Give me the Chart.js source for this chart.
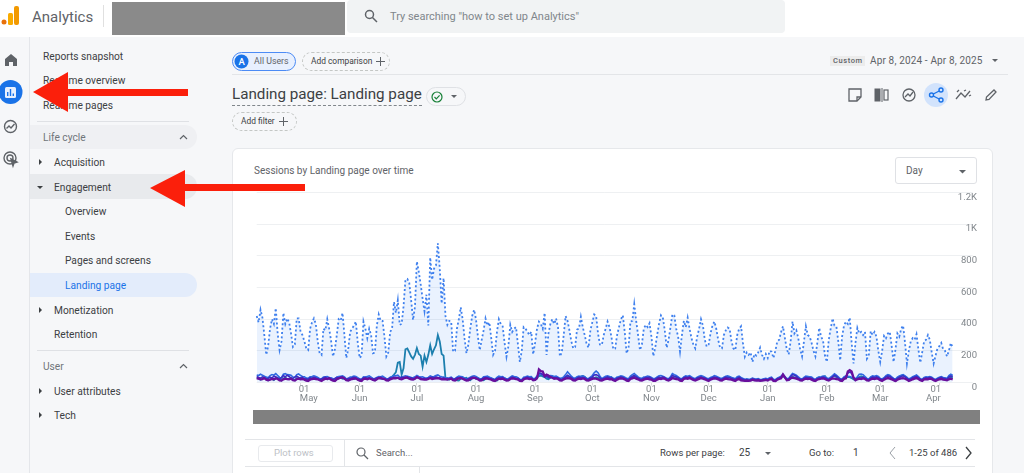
<!DOCTYPE html>
<html>
<head>
<meta charset="utf-8">
<title>Landing page: Landing page</title>
<script src="https://cdn.jsdelivr.net/npm/chart.js@4"></script>
<style>
html, body { margin: 0; padding: 0; width: 1024px; height: 473px; overflow: hidden; background: #f6f7f9; font-family: Roboto, sans-serif; color: #3c4043; }
.t { position: absolute; transform: translateY(calc(-50% + 1px)); white-space: nowrap; font-size: 10.2px; line-height: 1; }
.b { position: absolute; box-sizing: border-box; }
.chip { position: absolute; box-sizing: border-box; height: 19px; border: 1px dashed #c4c7c5; border-radius: 10px; }
svg { position: absolute; overflow: visible; }
</style>
</head>
<body>
<!-- top bar -->
<div class="b" style="left:0;top:0;width:1024px;height:37px;background:#fff"></div>
<svg style="left:0;top:0" width="24" height="30"><circle cx="4" cy="22" r="2.5" fill="#e8710a"/><rect x="8" y="13" width="5" height="12" rx="1.5" fill="#f9ab00"/><rect x="14" y="6" width="5" height="19" rx="2" fill="#f29900"/></svg>
<div class="t" style="left:32px;top:16px;font-size:15px;color:#5f6368">Analytics</div>
<div class="b" style="left:103px;top:5px;width:1px;height:22px;background:#e0e0e0"></div>
<div class="b" style="left:112px;top:2px;width:233px;height:33px;background:#8a8a8a"></div>
<div class="b" style="left:347px;top:0;width:438px;height:33px;background:#f1f3f4;border-radius:4px"></div>
<svg style="left:364px;top:9px" width="14" height="14" fill="none" stroke="#5f6368" stroke-width="1.5"><circle cx="5.5" cy="5.5" r="4"/><path d="M8.5 8.5 13 13"/></svg>
<div class="t" style="left:390px;top:15px;font-size:11px;color:#80868b">Try searching "how to set up Analytics"</div>

<!-- left rail -->
<div class="b" style="left:29px;top:37px;width:1px;height:436px;background:#e4e6ea"></div>
<svg style="left:4px;top:53px" width="14" height="14" fill="#5f6368"><path d="M7 1 13 6V13H9V9H5V13H1V6Z"/></svg>
<svg style="left:0;top:80px" width="24" height="24"><circle cx="10.5" cy="12" r="12" fill="#1a73e8"/><rect x="5" y="7" width="11" height="11" rx="1.5" fill="#e8f0fe"/><path d="M7.7 16V12M10.5 16V9M13.3 16V13.5" stroke="#1a73e8" stroke-width="1.4"/></svg>
<svg style="left:3px;top:119px" width="15" height="15" fill="none" stroke="#5f6368" stroke-width="1.4"><circle cx="7.5" cy="7.5" r="6"/><path d="M3.5 9.5 6 7l2 2 3.5-4"/></svg>
<svg style="left:3px;top:151px" width="15" height="15" fill="none" stroke="#5f6368" stroke-width="1.4"><circle cx="7" cy="7" r="6"/><circle cx="7" cy="7" r="3"/><path d="M8 8 14 11 11 12 10 15Z" fill="#5f6368"/></svg>

<!-- sidebar -->
<div class="t" style="left:43px;top:56px">Reports snapshot</div>
<div class="t" style="left:43px;top:80px">Realtime overview</div>
<div class="t" style="left:43px;top:105px">Realtime pages</div>
<div class="b" style="left:37px;top:121px;width:152px;height:1px;background:#dfe1e5"></div>
<div class="b" style="left:30px;top:125px;width:167px;height:24px;background:#eff0f3;border-radius:0 12px 12px 0"></div>
<div class="t" style="left:43px;top:137px;color:#70757a">Life cycle</div>
<svg style="left:179px;top:134px" width="9" height="6" fill="none" stroke="#5f6368" stroke-width="1.2"><path d="M1 5 4.500 1.500 8 5"/></svg>
<svg style="left:38px;top:159px" width="5" height="6" fill="#3c4043"><path d="M1 0 4 3 1 6Z"/></svg>
<div class="t" style="left:54px;top:162px">Acquisition</div>
<div class="b" style="left:30px;top:174px;width:167px;height:25px;background:#e8eaed;border-radius:0 12px 12px 0"></div>
<svg style="left:37px;top:185px" width="6" height="5" fill="#3c4043"><path d="M0 1 6 1 3 4Z"/></svg>
<div class="t" style="left:54px;top:187px">Engagement</div>
<div class="t" style="left:65px;top:211px">Overview</div>
<div class="t" style="left:65px;top:236px">Events</div>
<div class="t" style="left:65px;top:260px">Pages and screens</div>
<div class="b" style="left:30px;top:273px;width:167px;height:24px;background:#e3ecfb;border-radius:0 12px 12px 0"></div>
<div class="t" style="left:65px;top:285px;color:#1a73e8">Landing page</div>
<svg style="left:38px;top:307px" width="5" height="6" fill="#3c4043"><path d="M1 0 4 3 1 6Z"/></svg>
<div class="t" style="left:54px;top:310px">Monetization</div>
<div class="t" style="left:54px;top:334px">Retention</div>
<div class="b" style="left:37px;top:350px;width:152px;height:1px;background:#dfe1e5"></div>
<div class="t" style="left:43px;top:366px;color:#70757a">User</div>
<svg style="left:179px;top:363px" width="9" height="6" fill="none" stroke="#5f6368" stroke-width="1.2"><path d="M1 5 4.500 1.500 8 5"/></svg>
<svg style="left:38px;top:388px" width="5" height="6" fill="#3c4043"><path d="M1 0 4 3 1 6Z"/></svg>
<div class="t" style="left:54px;top:391px">User attributes</div>
<svg style="left:38px;top:412px" width="5" height="6" fill="#3c4043"><path d="M1 0 4 3 1 6Z"/></svg>
<div class="t" style="left:54px;top:415px">Tech</div>

<!-- report header -->
<div class="b" style="left:232px;top:52px;width:64px;height:19px;background:#e8f0fe;border:1px solid #4c8bf5;border-radius:10px"></div>
<svg style="left:234px;top:54px" width="15" height="15"><circle cx="7.5" cy="7.5" r="7" fill="#1a73e8"/></svg>
<div class="t" style="left:238.500px;top:60.500px;font-size:9.500px;color:#fff;font-weight:500">A</div>
<div class="t" style="left:254px;top:60px;font-size:8.800px;color:#5f6368">All Users</div>
<div class="chip" style="left:302px;top:52px;width:88px"></div>
<div class="t" style="left:311px;top:60px;font-size:8.400px">Add comparison</div>
<svg style="left:376px;top:57px" width="9" height="9" stroke="#5f6368"><path d="M4.500 0V9M0 4.500H9"/></svg>
<div class="b" style="left:232px;top:74px;width:776px;height:1px;background:#e3e5e8"></div>
<div class="b" style="left:830px;top:56px;width:35px;height:10px;background:#ececec"></div>
<div class="t" style="left:833px;top:60px;font-size:7.500px;letter-spacing:.6px;font-weight:500;color:#5f6368">Custom</div>
<div class="t" style="left:870px;top:60px;font-size:10px;letter-spacing:.15px;color:#5f6368">Apr 8, 2024 - Apr 8, 2025</div>
<svg style="left:992px;top:59px" width="6" height="4" fill="#5f6368"><path d="M0 0H6L3 3Z"/></svg>
<div class="t" style="left:232px;top:94px;font-size:15.200px">Landing page: Landing page</div>
<div class="b" style="left:232px;top:105px;width:190px;border-top:1px dashed #80868b"></div>
<div class="b" style="left:426px;top:87px;width:40px;height:19px;border:1px solid #dfe1e5;border-radius:10px"></div>
<svg style="left:431px;top:91px" width="12" height="12" fill="none" stroke="#188038" stroke-width="1.2"><circle cx="6" cy="6" r="5"/><path d="M3.500 6 5.300 7.800 8.600 4.400"/></svg>
<svg style="left:451px;top:95px" width="6" height="4" fill="#5f6368"><path d="M0 0H6L3 3Z"/></svg>
<div class="chip" style="left:232px;top:112px;width:65px"></div>
<div class="t" style="left:241px;top:120px;font-size:8.400px">Add filter</div>
<svg style="left:279px;top:117px" width="9" height="9" stroke="#5f6368"><path d="M4.500 0V9M0 4.500H9"/></svg>

<svg style="left:848px;top:88px" width="14" height="14" fill="none" stroke="#5f6368" stroke-width="1.3"><path d="M1 1H13V9L9 13H1Z"/><path d="M9 13V9H13"/></svg>
<svg style="left:874px;top:88px" width="16" height="14" stroke="#5f6368"><rect x="1" y="1" width="5" height="12" fill="#5f6368"/><rect x="10" y="2" width="4" height="10" fill="none" stroke-width="1.2"/><path d="M8 0V14"/></svg>
<svg style="left:902px;top:88px" width="14" height="14" fill="none" stroke="#5f6368" stroke-width="1.3"><circle cx="7" cy="7" r="6"/><path d="M3 9 6 6l2 2 3-4"/></svg>
<svg style="left:924px;top:83px" width="24" height="24"><circle cx="12" cy="12" r="12" fill="#d2e3fc"/><g fill="none" stroke="#1a73e8" stroke-width="1.4"><circle cx="17" cy="7" r="2"/><circle cx="7.500" cy="12" r="2"/><circle cx="17" cy="17" r="2"/><path d="M15.200 8 9.300 11M9.300 13 15.200 16"/></g></svg>
<svg style="left:956px;top:89px" width="15" height="12" fill="none" stroke="#5f6368" stroke-width="1.3"><path d="M0 10 5 4 9 8 14 2"/><path d="M1 3 3 1M8 2 10 1M13 7 15 6"/></svg>
<svg style="left:985px;top:89px" width="12" height="12" fill="none" stroke="#5f6368" stroke-width="1.3"><path d="M1 11 1.500 8 9 1 11 3 4 10.500Z"/></svg>

<!-- chart card -->
<div class="b" style="left:232px;top:148px;width:761px;height:340px;background:#fff;border:1px solid #e6e8eb;border-radius:6px"></div>
<div class="t" style="left:254px;top:170px;font-size:10px;color:#5f6368">Sessions by Landing page over time</div>
<div class="b" style="left:895px;top:157px;width:82px;height:27px;border:1px solid #dfe1e5;border-radius:3px"></div>
<div class="t" style="left:906px;top:170px;font-size:10px;color:#5f6368">Day</div>
<svg style="left:959px;top:170px" width="7" height="4" fill="#5f6368"><path d="M0 0H7L3.500 3.500Z"/></svg>
<canvas id="chart_sessions" width="744" height="225" style="position:absolute;left:233px;top:185px;width:744px;height:225px"></canvas>
<div class="b" style="left:253px;top:410px;width:727px;height:14px;background:#808080"></div>

<!-- table toolbar -->
<div class="b" style="left:245px;top:439px;width:730px;height:1px;background:#e3e5e8"></div>
<div class="b" style="left:245px;top:466px;width:730px;height:1px;background:#e3e5e8"></div>
<div class="b" style="left:344px;top:439px;width:1px;height:27px;background:#e3e5e8"></div>
<div class="b" style="left:419px;top:466px;width:1px;height:7px;background:#e3e5e8"></div>
<div class="b" style="left:258px;top:445px;width:75px;height:17px;border:1px solid #e8eaed;border-radius:3px"></div>
<div class="t" style="left:274px;top:452px;font-size:9.500px;color:#bdc1c6">Plot rows</div>
<svg style="left:356px;top:447px" width="12" height="12" fill="none" stroke="#5f6368" stroke-width="1.2"><circle cx="5" cy="5" r="4"/><path d="M8 8 12 12"/></svg>
<div class="t" style="left:376px;top:452px;font-size:9.500px;color:#5f6368">Search...</div>
<div class="t" style="left:660px;top:452px;font-size:9.500px">Rows per page:</div>
<div class="t" style="left:739px;top:452px;font-size:10px">25</div>
<svg style="left:765px;top:452px" width="6" height="4" fill="#5f6368"><path d="M0 0H6L3 3Z"/></svg>
<div class="t" style="left:809px;top:452px;font-size:9.500px">Go to:</div>
<div class="t" style="left:853px;top:452px;font-size:10px">1</div>
<svg style="left:889px;top:447px" width="7" height="12" fill="none" stroke="#9aa0a6" stroke-width="1"><path d="M6 0 1 6 6 12"/></svg>
<div class="t" style="left:909px;top:452px;font-size:9.500px">1-25 of 486</div>
<svg style="left:965px;top:447px" width="7" height="12" fill="none" stroke="#3c4043" stroke-width="1.300"><path d="M1 0 6 6 1 12"/></svg>

<!-- red arrows -->
<svg style="left:0;top:0" width="320" height="220" fill="#fb1f0b"><path d="M33 92 68 72V89H188V96H68V112Z"/><path d="M150 188 185 170V184H305V191H185V207Z"/></svg>

<script>
// one value per day, Apr 8 2024 - Apr 8 2025
const totalSessions = [
  420,380,460,410,300,175,230,
  340,400,370,470,310,205,260,
  440,370,405,380,310,225,240,
  405,405,320,300,260,215,205,
  340,380,405,370,260,185,175,
  340,330,400,340,265,165,210,
  300,400,390,440,300,155,210,
  320,340,360,385,250,155,170,
  385,340,280,340,300,185,190,
  360,430,390,390,290,165,190,
  320,340,510,440,520,365,370,
  480,650,655,630,520,395,480,
  765,700,620,530,450,555,360,
  790,650,720,740,880,720,500,
  660,420,365,390,385,195,200,
  340,400,475,400,280,185,240,
  340,420,460,400,290,205,270,
  330,405,360,380,280,175,200,
  320,400,370,355,250,163,230,
  365,320,340,350,240,130,200,
  350,340,320,300,320,178,250,
  340,385,370,340,440,174,310,
  370,400,370,405,350,165,190,
  300,420,390,330,260,216,225,
  335,340,415,350,300,245,220,
  330,380,430,420,310,240,237,
  300,340,385,350,290,210,215,
  300,350,400,425,320,184,220,
  385,390,495,390,300,205,240,
  340,365,350,375,290,167,220,
  300,370,425,410,330,220,270,
  350,430,425,340,290,195,300,
  390,350,410,340,280,240,216,
  290,340,400,360,270,227,240,
  310,360,385,340,270,220,216,
  300,330,348,340,260,215,205,
  300,340,355,250,163,190,175,
  190,130,180,170,190,220,175,150,180,155,200,195,155,200,
  260,270,320,355,280,210,178,260,385,310,330,280,210,165,
  260,355,300,290,250,200,165,250,345,290,265,170,130,270,
  340,405,360,355,260,140,290,360,385,370,410,250,120,250,
  345,310,320,300,320,150,170,325,300,320,290,200,130,200,
  295,280,310,320,230,130,210,310,290,340,360,250,120,200,
  260,280,270,305,210,125,190,260,270,300,270,190,120,170,
  215,230,250,210,200,165,200,250,220
];
const tealSessions = [
  30,26,18,22,34,28,14,20,24,16,28,30,22,12,
  26,32,20,24,30,18,14,28,22,26,20,24,16,12,
  24,28,22,26,30,18,14,26,24,20,28,22,16,12,
  22,26,30,24,28,16,14,24,28,22,26,20,14,12,
  26,22,28,30,24,18,14,24,30,26,22,28,16,14,
  28,36,50,65,125,130,50,90,210,215,190,165,150,175,
  218,180,170,100,170,130,175,235,180,210,235,300,260,180,
  170,25,20,18,26,22,24,14,12,24,28,26,30,18,
  14,26,30,24,28,22,16,14,24,28,30,26,22,14,
  12,24,30,26,28,20,16,26,34,30,28,24,14,12,
  24,28,32,26,30,18,16,30,40,44,38,34,24,20,
  30,36,34,32,28,20,18,28,34,40,36,30,22,18,
  30,34,38,42,36,24,20,26,30,28,34,30,20,18,
  26,32,30,28,34,22,16,26,36,32,30,28,18,14,
  28,34,42,36,30,20,16,24,30,34,28,26,16,14,
  26,30,28,34,30,22,18,26,32,36,38,30,20,16,
  28,30,34,32,28,20,16,24,30,34,30,26,18,14,
  24,28,32,30,26,20,16,26,30,34,36,28,18,16,
  24,30,22,18,14,20,16,18,24,20,18,22,16,14,
  20,22,18,24,26,14,12,22,28,32,40,34,18,16,
  28,38,32,30,26,18,14,24,30,36,34,28,18,14,
  28,34,30,36,40,24,16,24,38,42,34,30,18,14,
  26,32,36,34,28,20,16,28,34,40,36,30,20,14,
  26,32,28,34,30,20,14,24,36,40,38,30,18,12,
  24,30,42,46,38,30,16,20,30,38,42,34,20,14,
  26,30,28,34,30,18,14,22,28,32,26,24,16,22,
  34,30
];
const blueSessions = [
  48,44,52,46,40,34,30,44,50,46,56,44,32,30,
  52,56,50,48,46,34,32,50,54,44,38,36,28,26,
  36,38,42,38,32,24,22,34,36,38,32,30,24,20,
  34,38,40,42,36,24,22,34,36,40,38,30,22,20,
  36,34,38,42,34,26,22,32,38,36,40,32,24,22,
  34,38,44,42,46,34,32,38,42,40,36,32,30,36,
  44,38,34,36,30,28,32,42,36,38,44,48,40,36,
  34,30,28,30,34,24,22,34,40,38,36,28,22,24,
  34,40,42,38,30,22,24,36,38,40,34,28,22,20,
  32,40,36,38,28,22,24,34,42,38,36,30,20,18,
  34,36,40,36,38,24,26,40,48,56,52,44,36,40,
  44,42,38,40,34,26,28,36,50,68,54,40,30,28,
  36,40,38,42,36,26,24,34,44,62,72,62,40,24,
  32,40,42,38,34,26,24,34,36,42,40,34,26,24,
  40,50,57,46,36,28,26,34,36,40,38,32,24,26,
  36,42,44,40,34,26,24,36,57,50,44,36,26,24,
  36,42,40,44,36,28,24,34,40,44,40,34,26,24,
  32,36,44,40,34,28,26,34,40,42,36,32,28,24,
  36,40,32,26,20,22,20,22,28,24,22,24,18,20,
  24,26,22,30,34,20,18,28,34,40,52,38,24,26,
  42,57,52,46,36,26,22,32,40,38,36,34,24,20,
  30,34,36,40,38,28,24,34,44,55,46,36,24,22,
  36,42,40,38,34,28,24,36,52,54,50,38,26,22,
  36,42,40,44,38,26,22,30,44,50,46,36,26,20,
  34,42,46,50,42,32,22,28,36,42,48,38,24,20,
  32,36,34,38,34,24,20,28,34,38,32,30,26,44,
  52,44
];
const indigoSessions = [
  38,32,28,36,30,20,26,34,28,40,36,26,24,30,
  44,36,46,38,28,26,34,40,32,28,34,22,24,20,
  30,26,34,28,24,18,24,28,34,26,30,20,18,26,
  32,28,36,34,22,18,28,24,30,32,28,20,22,18,
  28,32,26,30,24,20,26,30,28,34,26,24,18,24,
  30,26,34,32,28,26,34,30,28,36,26,30,22,28,
  34,30,28,24,26,22,28,30,34,28,36,32,30,26,
  28,24,26,22,28,18,24,30,28,32,26,20,18,26,
  28,32,30,26,24,18,22,28,32,30,26,22,20,16,
  26,30,28,32,22,20,18,28,34,30,24,26,18,14,
  26,30,34,28,26,20,22,34,60,58,48,36,40,30,
  36,32,30,28,30,22,18,26,36,46,38,30,24,20,
  28,34,30,32,30,20,22,28,34,48,50,44,30,20,
  26,30,36,30,28,22,18,28,30,36,32,26,22,18,
  30,38,44,36,28,22,20,26,32,30,34,26,18,22,
  28,34,30,36,30,20,22,28,44,40,34,30,22,18,
  30,34,32,36,26,24,18,28,32,36,30,28,22,18,
  26,30,34,32,28,22,20,28,34,32,30,26,22,18,
  28,34,26,20,16,18,14,18,22,20,16,20,14,16,
  18,22,16,24,28,16,14,24,28,34,46,30,20,22,
  36,50,46,40,28,20,18,26,32,30,28,26,20,16,
  24,28,30,34,30,24,18,26,36,46,40,28,20,18,
  30,36,60,66,58,32,18,26,30,28,34,28,20,16,
  28,34,32,36,30,22,16,24,36,42,38,30,22,14,
  26,34,38,42,36,26,18,22,30,34,38,30,20,16,
  26,30,28,32,28,20,16,22,28,32,26,24,20,34,
  42,36
];
const purpleSessions = [
  26,24,20,22,28,18,14,18,22,20,26,22,14,12,
  20,24,22,20,24,14,12,22,24,20,22,18,12,10,
  18,22,24,22,20,14,10,18,24,22,26,18,12,10,
  20,26,30,32,26,14,12,18,22,24,26,18,12,10,
  22,24,20,26,22,16,12,20,28,26,24,22,14,12,
  20,24,28,26,30,22,20,26,32,30,24,20,18,24,
  34,28,22,20,18,18,22,28,22,24,26,28,24,20,
  22,20,18,22,24,14,12,20,26,28,24,18,12,14,
  22,28,30,26,20,12,14,22,26,24,22,18,12,10,
  18,24,22,24,18,12,14,22,26,24,22,18,10,8,
  20,24,26,22,24,14,16,26,83,72,70,40,50,44,
  34,30,24,26,22,14,12,20,24,28,26,22,14,12,
  20,24,22,26,22,14,12,18,22,26,24,20,14,12,
  18,22,24,20,22,14,10,18,24,26,24,20,12,10,
  22,26,30,24,20,14,12,18,22,24,20,18,10,10,
  18,24,22,26,24,16,12,18,28,24,22,20,12,10,
  22,26,24,28,22,16,12,18,22,28,24,20,14,10,
  18,22,26,24,20,14,12,20,24,22,20,18,14,10,
  18,22,14,12,10,12,10,12,18,14,12,14,10,12,
  14,16,12,20,22,10,8,18,22,26,50,32,14,16,
  26,30,28,24,20,14,12,20,24,22,24,18,12,10,
  18,22,24,26,22,16,12,20,26,24,22,20,12,10,
  22,26,70,78,70,30,14,20,24,22,26,22,14,12,
  20,24,22,26,22,14,10,18,24,28,24,20,14,8,
  18,22,26,28,24,18,10,14,20,24,28,22,14,10,
  20,22,20,24,22,14,10,16,20,22,18,16,14,20,
  24,20
];

// daily categories for the whole range
const monthNames = ['Jan','Feb','Mar','Apr','May','Jun','Jul','Aug','Sep','Oct','Nov','Dec'];
const dayLabels = [];
for ( var i = 0; i < totalSessions.length; i++ ) {
  const d = new Date(Date.UTC(2024, 3, 8 + i));
  dayLabels.push(String(d.getUTCDate()).padStart(2, '0') + ' ' + monthNames[d.getUTCMonth()]);
}

const yTicks = {0: '0', 200: '200', 400: '400', 600: '600', 800: '800', 1000: '1K', 1200: '1.2K'};

const configSessions = {
  type: 'line',
  data: {
    labels: dayLabels,
    datasets: [{
        // first dataset is painted last
        label: 'purple',
        data: purpleSessions,
        fill: false,
        borderColor: '#690f9c',
        borderWidth: 2.3,
        pointRadius: 0
    },
    {
        label: 'indigo',
        data: indigoSessions,
        fill: false,
        borderColor: '#3a2fc4',
        borderWidth: 1.6,
        pointRadius: 0
    },
    {
        label: 'blue',
        data: blueSessions,
        fill: false,
        borderColor: '#2f6ae0',
        borderWidth: 1.6,
        pointRadius: 0
    },
    {
        label: 'teal',
        data: tealSessions,
        fill: false,
        borderColor: '#1c7fae',
        borderWidth: 1.8,
        pointRadius: 0
    },
    {
        label: 'Total',
        data: totalSessions,
        fill: 'origin',
        backgroundColor: 'rgba(66,133,244,0.11)',
        borderColor: '#3f80ee',
        borderWidth: 1.8,
        borderDash: [2, 2.4],
        pointRadius: 0
    }]},
  options: {
    responsive: false,
    animation: false,
    layout: { padding: { left: 23.7, top: 7.7 } },
    plugins: { legend: { display: false }, tooltip: { enabled: false } },
    scales: {
      x: {
        grid: {
          drawOnChartArea: false,
          tickLength: 3,
          color: function ( c ) { return c.tick && c.tick.label && c.tick.label.length ? '#dadce0' : 'rgba(0,0,0,0)'; }
        },
        border: { display: false },
        afterFit: function ( s ) { s.height = 27.5; },
        ticks: {
          autoSkip: false,
          maxRotation: 0,
          padding: 0,
          color: '#80868b',
          font: { family: 'Roboto', size: 9.5, lineHeight: 0.95 },
          callback: function ( v ) {
            const parts = this.getLabelForValue(v).split(' ');
            if ( parts[0] != '01' ) return '';
            // the first and last month labels sit slightly inward in the original
            if ( parts[1] == 'May' ) return ['   01', '       May'];
            if ( parts[1] == 'Apr' ) return ['01   ', 'Apr     '];
            return parts;
          }
        }
      },
      y: {
        position: 'right',
        min: 0,
        max: 1200,
        grid: { color: '#eef0f2', tickLength: 20 },
        border: { display: false },
        afterFit: function ( s ) { s.width = 24.3; },
        ticks: {
          stepSize: 200,
          align: 'start',
          crossAlign: 'far',
          padding: 0,
          color: '#80868b',
          font: { family: 'Roboto', size: 9.5 },
          callback: function ( v ) { return yTicks[v]; }
        }
      }
    }
  }
};

const chartSessions = new Chart(document.getElementById('chart_sessions'), configSessions);
</script>
</body>
</html>
